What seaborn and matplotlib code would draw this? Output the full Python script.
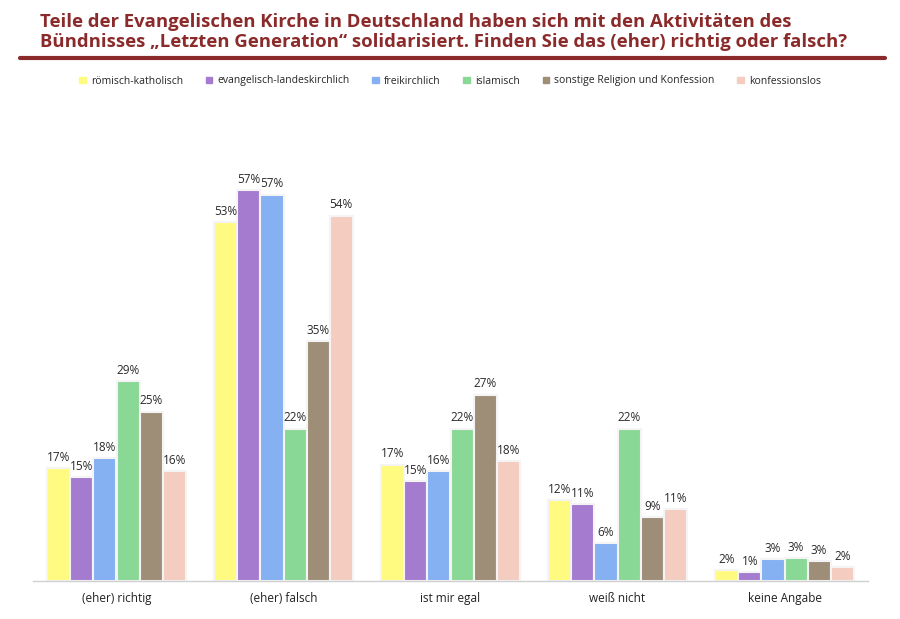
import pandas as pd
import numpy as np
import matplotlib.pyplot as plt
import seaborn as sns

categories = ['(eher) richtig', '(eher) falsch', 'ist mir egal', 'weiß nicht', 'keine Angabe']
groups = ['römisch-katholisch', 'evangelisch-landeskirchlich', 'freikirchlich',
          'islamisch', 'sonstige Religion und Konfession', 'konfessionslos']

# values per group, in category order
katholisch = [16.6, 52.8, 17.1, 11.9, 1.6]
evangelisch = [15.3, 57.4, 14.7, 11.3, 1.3]
freikirchlich = [18.1, 56.8, 16.2, 5.6, 3.2]
islamisch = [29.4, 22.4, 22.4, 22.4, 3.4]
sonstige = [24.9, 35.3, 27.4, 9.4, 2.9]
konfessionslos = [16.2, 53.7, 17.6, 10.6, 2.1]

colors = ['#FFFB80', '#A57BCF', '#85B0F2', '#8AD895', '#9E8E78', '#F5CDC0']

series = [katholisch, evangelisch, freikirchlich, islamisch, sonstige, konfessionslos]
rows = []
for g, vals in zip(groups, series):
    for c, v in zip(categories, vals):
        rows.append({'Antwort': c, 'Gruppe': g, 'Wert': v})
df = pd.DataFrame(rows)

sns.set_style('white')
plt.rcParams['font.family'] = ['Open Sans', 'DejaVu Sans']

fig = plt.figure(figsize=(9, 6.19), dpi=100)
ax = fig.add_axes([33/900, 1 - 581/619, (868 - 33)/900, (581 - 100)/619])

sns.barplot(data=df, x='Antwort', y='Wert', hue='Gruppe', hue_order=groups,
            order=categories, palette=colors, saturation=1, width=0.83, ax=ax,
            edgecolor='#F4F4F4', linewidth=1.5, legend=False)

for cont in ax.containers:
    labels = ['%d%%' % round(b.get_height()) for b in cont]
    ax.bar_label(cont, labels=labels, padding=3, fontsize=8.5, color='#2A2A2A')

ax.set_ylim(0, 70.7)
ax.set_xlim(-0.5, 4.5)
ax.set_xlabel('')
ax.set_ylabel('')
ax.set_yticks([])
ax.tick_params(axis='x', length=0, labelsize=8.5, colors='#222222', pad=8)
for s in ['left', 'right', 'top']:
    ax.spines[s].set_visible(False)
ax.spines['bottom'].set_color('#D0D0D0')
ax.spines['bottom'].set_linewidth(1)

# title and rule
fig.text(40/900, 1 - 13/619,
         'Teile der Evangelischen Kirche in Deutschland haben sich mit den Aktivitäten des\n'
         'Bündnisses „Letzten Generation“ solidarisiert. Finden Sie das (eher) richtig oder falsch?',
         ha='left', va='top', fontsize=13.3, fontweight='bold', color='#8B2A2A',
         linespacing=1.12)
fig.add_artist(plt.Line2D([20/900, 885/900], [1 - 58/619, 1 - 58/619],
                          color='#8B2A2A', linewidth=3))

# legend
handles = [plt.Rectangle((0, 0), 1, 1, color=c) for c in colors]
fig.legend(handles, groups, loc='center', bbox_to_anchor=(0.5, 1 - 81/619),
           ncol=6, frameon=False, fontsize=7.5, handlelength=0.6, handleheight=0.6,
           handletextpad=0.5, columnspacing=2.2)

fig.savefig('out.png', dpi=100)
